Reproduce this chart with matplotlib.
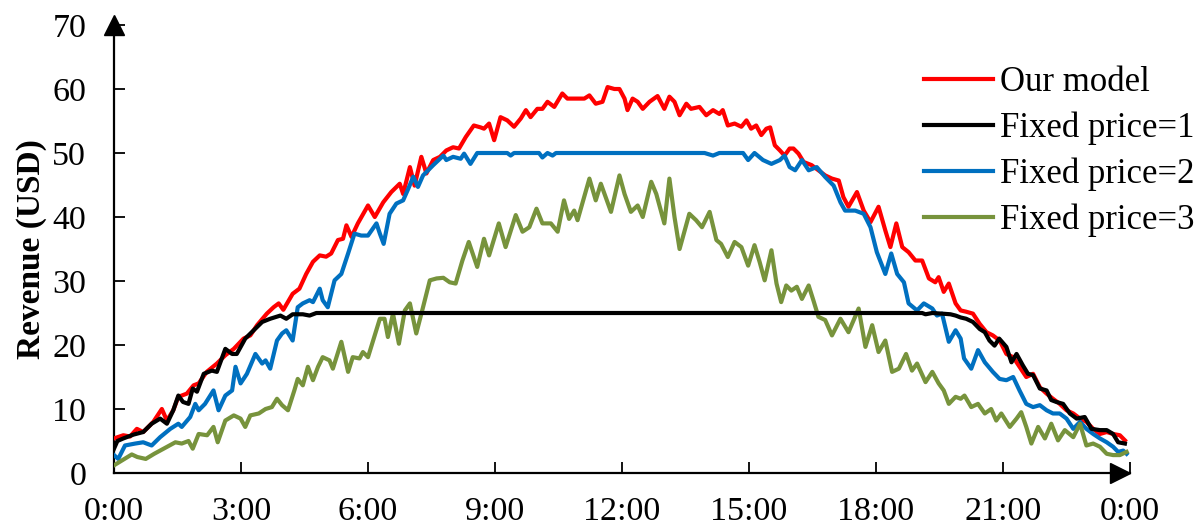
import numpy as np
import matplotlib.pyplot as plt

# Revenue over one day (hours 0-24)
model_t = [0.00, 0.22, 0.38, 0.54, 0.69, 0.93, 1.13, 1.25, 1.40, 1.52, 1.72, 1.88, 2.00, 2.19, 2.43, 2.63,
           2.83, 3.06, 3.22, 3.38, 3.61, 3.77, 3.89, 4.00, 4.22, 4.38, 4.54, 4.70, 4.86, 5.01, 5.13, 5.29,
           5.41, 5.49, 5.61, 5.76, 6.00, 6.16, 6.36, 6.55, 6.75, 6.83, 6.99, 7.10, 7.26, 7.38, 7.54, 7.70,
           7.85, 8.01, 8.15, 8.31, 8.50, 8.66, 8.74, 8.86, 8.98, 9.13, 9.29, 9.45, 9.61, 9.73, 9.84, 10.00,
           10.12, 10.24, 10.40, 10.59, 10.71, 10.91, 11.11, 11.23, 11.38, 11.54, 11.66, 11.82, 11.94, 12.06,
           12.13, 12.25, 12.37, 12.49, 12.65, 12.84, 13.00, 13.12, 13.24, 13.36, 13.52, 13.63, 13.83, 13.99,
           14.15, 14.30, 14.38, 14.50, 14.66, 14.82, 14.94, 15.05, 15.17, 15.29, 15.41, 15.50, 15.61, 15.73,
           15.84, 15.96, 16.05, 16.17, 16.29, 16.48, 16.64, 16.80, 16.96, 17.12, 17.23, 17.35, 17.55, 17.71,
           17.87, 18.06, 18.22, 18.34, 18.48, 18.62, 18.77, 18.93, 19.09, 19.25, 19.40, 19.48, 19.60, 19.72,
           19.88, 20.00, 20.13, 20.29, 20.45, 20.61, 20.76, 20.92, 21.08, 21.24, 21.39, 21.55, 21.71, 21.87,
           22.03, 22.18, 22.34, 22.50, 22.66, 22.82, 22.97, 23.13, 23.29, 23.45, 23.60, 23.76, 23.88]
model_rev = [5.4, 5.9, 5.7, 6.9, 6.4, 8.0, 10.0, 8.2, 9.8, 11.9, 12.4, 13.7, 14.0, 15.8, 17.1, 18.4,
             19.4, 21.0, 21.5, 23.1, 24.9, 25.9, 26.5, 25.5, 28.0, 28.8, 31.1, 33.0, 34.0, 33.8, 34.3, 36.4,
             36.6, 38.7, 36.9, 39.0, 41.8, 40.0, 42.3, 43.9, 45.2, 43.6, 47.8, 44.9, 49.4, 46.8, 48.9, 49.4,
             50.4, 50.9, 50.7, 52.5, 54.3, 54.0, 53.8, 54.6, 52.0, 55.6, 55.1, 54.1, 55.4, 56.7, 55.6, 56.9,
             56.9, 58.0, 57.2, 59.3, 58.5, 58.5, 58.5, 59.0, 57.7, 58.0, 60.3, 60.0, 60.0, 58.5,
             56.7, 58.5, 58.0, 56.9, 58.0, 58.9, 56.9, 58.8, 58.0, 55.9, 57.7, 56.9, 57.2, 55.9,
             56.7, 56.1, 56.7, 54.3, 54.6, 54.1, 55.1, 53.8, 54.3, 52.8, 53.8, 54.0, 51.2, 50.4,
             49.6, 50.7, 50.7, 49.9, 48.6, 48.1, 47.3, 46.5, 46.0, 45.7, 43.1, 41.6, 43.9, 41.0,
             39.2, 41.6, 37.9, 35.3, 39.0, 35.3, 34.5, 33.2, 33.2, 30.4, 29.8, 30.6, 28.3, 29.6,
             26.5, 25.4, 25.2, 24.9, 23.3, 22.0, 21.5, 20.7, 18.6, 18.1, 16.6, 15.0, 15.5, 13.4,
             12.4, 11.6, 10.8, 9.8, 9.3, 8.5, 8.0, 6.9, 6.1, 6.4, 6.1, 5.9, 5.1]

fp1_t = [0.00, 0.08, 0.22, 0.46, 0.69, 0.89, 1.09, 1.25, 1.40, 1.52, 1.63, 1.76, 1.86, 1.96, 2.12, 2.31,
         2.43, 2.63, 2.79, 2.90, 3.10, 3.30, 3.50, 3.69, 3.93, 4.07, 4.22, 4.46, 4.62, 4.78, 19.09, 19.17,
         19.33, 19.56, 19.76, 19.88, 20.00, 20.13, 20.29, 20.45, 20.57, 20.68, 20.80, 20.91, 21.08, 21.20,
         21.32, 21.47, 21.59, 21.71, 21.87, 22.03, 22.14, 22.26, 22.42, 22.58, 22.74, 22.93, 23.09, 23.29,
         23.45, 23.60, 23.72, 23.88]
fp1_rev = [3.8, 5.0, 5.4, 6.0, 6.4, 7.7, 8.5, 7.7, 9.8, 12.1, 11.1, 10.8, 13.2, 12.7, 15.5, 16.0,
           15.8, 19.4, 18.6, 18.6, 21.0, 22.3, 23.6, 24.1, 24.6, 24.1, 24.8, 24.8, 24.6, 25.0, 25.0, 24.8,
           25.0, 24.9, 24.8, 24.6, 24.3, 24.1, 23.6, 22.5, 22.0, 20.7, 19.9, 21.0, 19.7, 17.3,
           18.6, 16.8, 15.5, 15.3, 13.2, 12.9, 11.4, 11.1, 10.8, 9.3, 8.5, 8.75, 6.9, 6.7,
           6.7, 6.1, 4.8, 4.6]

fp2_t = [0.00, 0.10, 0.26, 0.50, 0.69, 0.89, 1.09, 1.33, 1.52, 1.60, 1.80, 1.92, 2.00, 2.15, 2.35, 2.47,
         2.63, 2.79, 2.87, 2.99, 3.14, 3.34, 3.50, 3.58, 3.69, 3.85, 3.97, 4.07, 4.22, 4.34, 4.46, 4.62,
         4.70, 4.86, 4.93, 5.05, 5.21, 5.37, 5.53, 5.68, 5.84, 6.00, 6.20, 6.28, 6.37, 6.51, 6.67, 6.83,
         6.95, 7.07, 7.18, 7.30, 7.54, 7.78, 7.85, 8.01, 8.19, 8.27, 8.42, 8.58, 9.29, 9.37, 9.45, 10.04,
         10.12, 10.24, 10.36, 10.44, 13.95, 14.15, 14.30, 14.70, 14.86, 14.98, 15.13, 15.33, 15.53, 15.73,
         15.84, 15.96, 16.09, 16.25, 16.41, 16.60, 16.80, 17.00, 17.16, 17.27, 17.51, 17.71, 17.87, 18.02,
         18.22, 18.36, 18.50, 18.66, 18.77, 18.97, 19.13, 19.33, 19.44, 19.56, 19.72, 19.88, 20.00, 20.08,
         20.25, 20.41, 20.57, 20.76, 20.92, 21.08, 21.24, 21.39, 21.55, 21.71, 21.87, 22.03, 22.18, 22.34,
         22.50, 22.66, 22.82, 22.97, 23.13, 23.29, 23.45, 23.60, 23.72, 23.84, 23.92]
fp2_rev = [2.8, 2.2, 4.3, 4.6, 4.8, 4.3, 5.6, 6.9, 7.7, 7.2, 8.75, 10.8, 9.8, 10.8, 12.9, 9.8,
           12.1, 12.9, 16.6, 14.0, 15.5, 18.6, 17.1, 17.6, 16.3, 20.7, 21.8, 22.3, 20.7, 25.9, 26.5, 27.0,
           26.7, 28.8, 27.0, 25.9, 30.1, 31.1, 34.3, 37.4, 37.1, 37.1, 39.0, 37.4, 35.8, 40.5, 42.1, 42.6,
           44.4, 46.3, 44.7, 46.5, 48.1, 49.6, 48.9, 49.4, 49.1, 49.9, 48.3, 50.0, 50.0, 49.6, 50.0, 50.0,
           49.3, 50.0, 49.6, 50.0, 50.0, 49.6, 50.0, 50.0, 50.0, 48.9, 50.0, 48.9, 48.3, 48.9,
           49.6, 47.8, 47.3, 48.9, 47.3, 47.8, 46.25, 44.9, 42.3, 41.0, 41.0, 40.5, 38.4, 34.5,
           31.1, 34.3, 31.1, 29.8, 26.5, 25.4, 26.5, 25.7, 24.6, 24.9, 20.5, 22.3, 21.0, 17.9,
           16.3, 19.2, 17.3, 15.8, 14.7, 14.5, 15.0, 12.9, 10.8, 10.3, 10.6, 9.8, 9.3, 9.3,
           8.5, 6.9, 8.0, 6.9, 6.1, 5.4, 4.8, 4.1, 3.3, 3.5, 3.0]

fp3_t = [0.00, 0.20, 0.42, 0.55, 0.75, 0.95, 1.09, 1.31, 1.45, 1.60, 1.76, 1.86, 2.00, 2.20, 2.35, 2.45,
         2.63, 2.83, 2.99, 3.10, 3.22, 3.42, 3.58, 3.73, 3.85, 3.97, 4.11, 4.26, 4.34, 4.46, 4.58, 4.70,
         4.82, 4.93, 5.09, 5.17, 5.37, 5.53, 5.64, 5.80, 5.88, 6.00, 6.16, 6.28, 6.39, 6.47, 6.59, 6.73,
         6.87, 6.99, 7.14, 7.30, 7.46, 7.62, 7.78, 7.93, 8.07, 8.23, 8.38, 8.58, 8.74, 8.86, 9.09, 9.25,
         9.49, 9.65, 9.81, 9.98, 10.12, 10.32, 10.48, 10.63, 10.75, 10.87, 10.95, 11.23, 11.38, 11.50,
         11.74, 11.94, 12.06, 12.21, 12.37, 12.49, 12.69, 12.81, 13.00, 13.12, 13.24, 13.36, 13.59, 13.75,
         13.89, 14.07, 14.23, 14.34, 14.50, 14.66, 14.82, 14.98, 15.13, 15.25, 15.37, 15.53, 15.65, 15.76,
         15.88, 16.00, 16.13, 16.25, 16.41, 16.52, 16.64, 16.80, 16.96, 17.16, 17.35, 17.59, 17.75, 17.91,
         18.06, 18.22, 18.38, 18.54, 18.71, 18.85, 18.97, 19.17, 19.33, 19.48, 19.60, 19.72, 19.88, 20.00,
         20.09, 20.25, 20.41, 20.57, 20.72, 20.84, 20.96, 21.16, 21.32, 21.43, 21.55, 21.67, 21.83, 21.99,
         22.14, 22.30, 22.46, 22.66, 22.82, 22.97, 23.13, 23.29, 23.45, 23.60, 23.76, 23.92]
fp3_rev = [1.2, 2.0, 2.9, 2.5, 2.2, 3.0, 3.5, 4.3, 4.8, 4.6, 5.0, 3.8, 6.1, 5.9, 7.2, 4.8,
           8.2, 9.0, 8.5, 7.2, 9.0, 9.3, 10.0, 10.3, 11.6, 10.6, 9.8, 12.9, 14.7, 13.7, 16.6, 14.5,
           16.6, 18.1, 17.6, 16.3, 20.5, 15.8, 18.1, 17.9, 18.9, 18.1, 21.5, 24.1, 24.1, 21.25, 24.9, 20.2,
           25.4, 26.5, 21.8, 25.9, 30.1, 30.4, 30.5, 29.8, 29.6, 33.2, 36.1, 32.2, 36.6, 34.0, 39.0, 35.3,
           40.3, 37.7, 38.4, 41.3, 39.0, 39.0, 37.7, 42.6, 39.7, 41.0, 39.5, 46.0, 42.6, 45.2,
           40.8, 46.5, 43.6, 40.8, 41.8, 40.0, 45.5, 43.6, 39.0, 46.0, 40.0, 35.0, 40.5, 39.5,
           38.4, 40.8, 36.4, 35.8, 33.75, 36.1, 35.3, 32.4, 35.6, 33.0, 30.1, 34.8, 29.6, 26.7,
           29.3, 28.5, 29.1, 27.2, 29.3, 27.0, 24.4, 23.9, 21.5, 24.1, 22.0, 25.7, 19.7, 23.1,
           18.9, 20.7, 15.8, 16.3, 18.6, 16.0, 17.1, 14.2, 15.8, 14.0, 12.9, 10.8, 11.9, 11.6,
           12.1, 10.3, 10.8, 9.3, 10.0, 8.2, 9.3, 7.2, 8.5, 9.5, 7.2, 4.6, 7.2, 5.4,
           7.7, 5.1, 6.7, 5.6, 7.7, 4.3, 4.6, 4.1, 3.0, 2.8, 2.8, 3.3]

tick_hours = [0, 3, 6, 9, 12, 15, 18, 21, 24]
tick_labels = ['0:00', '3:00', '6:00', '9:00', '12:00', '15:00', '18:00', '21:00', '0:00']

plt.rcParams['font.family'] = ['Liberation Serif', 'DejaVu Serif']

fig = plt.figure(figsize=(11.98, 5.28), dpi=100)
ax = fig.add_axes([114 / 1198, 55 / 528, 1016 / 1198, 448 / 528])

lw = 3.0
ax.plot(model_t, model_rev, color='#FF0000', lw=lw, label='Our model', zorder=3)
ax.plot(fp1_t, fp1_rev, color='black', lw=lw, label='Fixed price=1', zorder=4)
ax.plot(fp2_t, fp2_rev, color='#0070C0', lw=lw, label='Fixed price=2', zorder=3)
ax.plot(fp3_t, fp3_rev, color='#77933C', lw=lw, label='Fixed price=3', zorder=3)

ax.set_xlim(0, 24)
ax.set_ylim(0, 70)
ax.set_xticks(tick_hours)
ax.set_xticklabels(tick_labels)
ax.set_yticks(np.arange(0, 71, 10))
ax.tick_params(axis='both', direction='in', length=8, width=1.3, labelsize=24.5)
ax.tick_params(axis='x', pad=17)
ax.tick_params(axis='y', pad=20)

for side in ['top', 'right']:
    ax.spines[side].set_visible(False)
for side in ['left', 'bottom']:
    ax.spines[side].set_linewidth(1.6)

# arrow heads at the end of both axes
ax.plot([0], [1], marker='^', markersize=14, color='black', transform=ax.transAxes, clip_on=False)
ax.plot([0.99], [0], marker='>', markersize=14, color='black', transform=ax.transAxes, clip_on=False)

ax.set_ylabel('Revenue (USD)', fontsize=24, fontweight='bold', labelpad=4)

fig.legend(loc='upper left', bbox_to_anchor=(924 / 1198, 1 - 66 / 528), frameon=False,
           fontsize=25, handlelength=2.0, handletextpad=0.2, labelspacing=0.36,
           borderpad=0, borderaxespad=0)

fig.savefig('out.png', dpi=100)
